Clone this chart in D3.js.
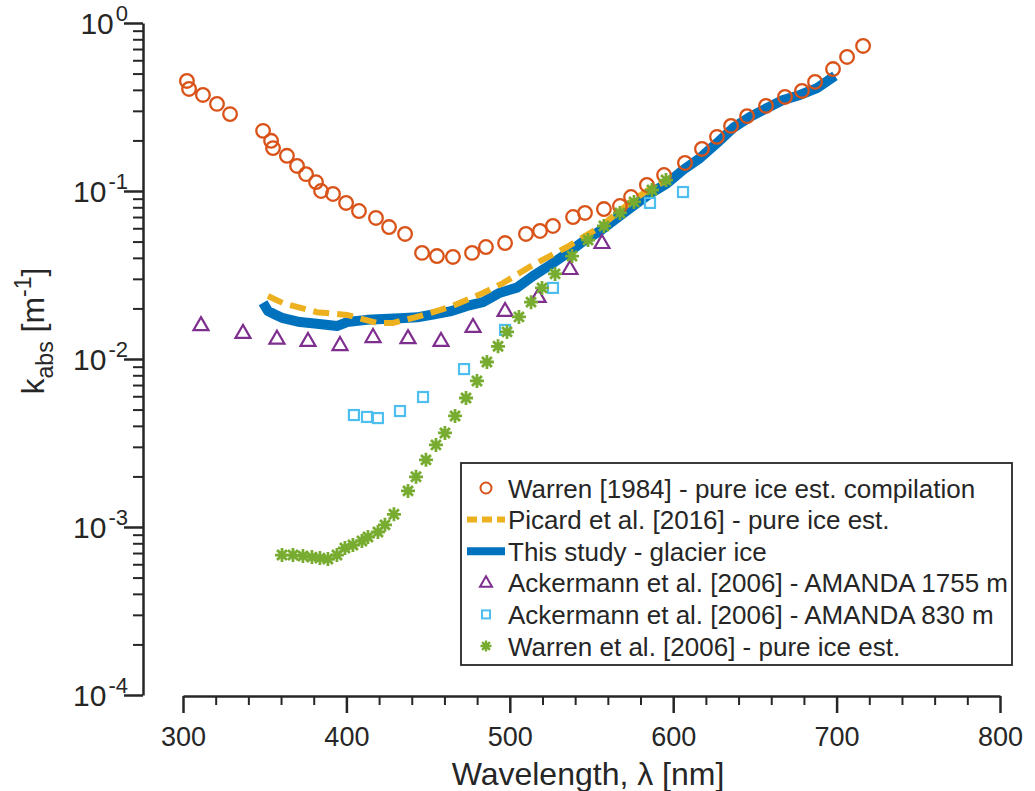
<!DOCTYPE html>
<html><head><meta charset="utf-8">
<script src="https://cdn.jsdelivr.net/npm/d3@7"></script>
<style>
html,body{margin:0;padding:0;background:#fff;}
svg{display:block;}
text{font-family:Helvetica, Arial, "Liberation Sans", sans-serif; fill:#262626;}
</style></head>
<body>
<svg id="chart" width="1035" height="791"></svg>
<script>
// ---------------- DATA ----------------
const warren1984Wl = [302.4,303.7,312.2,320.8,328.8,349.0,353.9,355.1,363.6,369.8,375.3,381.4,384.5,391.8,399.8,407.7,418.1,426.1,435.9,446.3,455.4,465.2,476.9,485.4,497.1,509.9,518.5,526.4,538.7,546.0,557.6,567.4,574.2,583.9,594.4,607.2,617.6,626.8,635.4,645.2,656.8,668.4,678.8,686.8,697.8,706.4,716.2];
const warren1984K  = [0.452,0.405,0.373,0.330,0.287,0.228,0.199,0.180,0.162,0.141,0.126,0.113,0.100,0.096,0.0849,0.0760,0.0691,0.0610,0.0555,0.0428,0.0410,0.0405,0.0428,0.0464,0.0490,0.0555,0.0578,0.0619,0.0700,0.0740,0.0781,0.0814,0.0921,0.1086,0.1245,0.1468,0.178,0.210,0.244,0.279,0.321,0.363,0.394,0.446,0.532,0.628,0.730];

const picardWl = [352.0,361.2,382.0,400.4,418.7,428.5,443.2,463.4,483.6,495.8,514.2,535.0,555.2,575.4,587.6,598.0];
const picardK  = [0.0237,0.0215,0.0190,0.0183,0.0164,0.0164,0.0178,0.0204,0.0247,0.0283,0.0363,0.0464,0.0610,0.0884,0.1056,0.118];

const studyWl = [349.0,352.0,356.9,361.2,371.6,382.0,394.2,400.4,412.6,422.4,432.8,443.2,453.0,463.4,473.8,483.6,494.0,504.4,514.2,524.6,535.0,544.8,555.2,565.6,575.4,585.8,596.2,606.0,616.4,626.8,636.6,647.0,657.4,667.2,677.6,688.0,699.0];
const studyK  = [0.0216,0.0193,0.0183,0.0175,0.0166,0.0162,0.0157,0.0166,0.0171,0.0173,0.0175,0.0177,0.0184,0.0192,0.0207,0.0218,0.0248,0.0266,0.0312,0.0362,0.0425,0.0500,0.0578,0.0690,0.0815,0.0965,0.1110,0.1334,0.157,0.193,0.237,0.276,0.312,0.348,0.373,0.410,0.484];

const ack1755Wl = [311.0,336.7,357.5,376.5,396.1,416.3,437.7,457.9,477.5,497.1,517.3,536.8,556.4];
const ack1755K  = [0.0159,0.0143,0.0132,0.0128,0.0121,0.0135,0.0133,0.0128,0.0155,0.0193,0.0234,0.0343,0.0490];

const ack830Wl = [404.6,412.6,419.3,432.8,446.9,472.0,497.1,526.4,585.8,606.0];
const ack830K  = [0.00464,0.00452,0.00445,0.00490,0.00594,0.00871,0.0149,0.0265,0.0849,0.0986];

const warren2006Wl = [360.6,367.3,373.4,378.9,383.8,388.7,394.2,399.1,404.0,409.5,413.2,419.3,423.6,429.1,437.7,442.6,448.7,454.8,460.3,466.5,473.2,479.9,486.0,492.8,498.3,505.6,513.0,519.7,527.7,538.1,547.9,557.6,567.4,576.0,587.0,595.6];
const warren2006K  = [6.81e-4,6.81e-4,6.72e-4,6.62e-4,6.53e-4,6.45e-4,6.81e-4,7.50e-4,7.81e-4,8.26e-4,8.72e-4,9.34e-4,1.03e-3,1.19e-3,1.64e-3,1.99e-3,2.51e-3,3.08e-3,3.63e-3,4.58e-3,5.86e-3,7.40e-3,9.60e-3,0.0119,0.0145,0.0178,0.0218,0.0265,0.0321,0.0410,0.0511,0.0619,0.0740,0.0861,0.1014,0.1162];

const xTickValues = [300,400,500,600,700,800];
const yTickExponents = [0,-1,-2,-3,-4];
const legendLabels = [
  "Warren [1984] - pure ice est. compilation",
  "Picard et al. [2016] - pure ice est.",
  "This study - glacier ice",
  "Ackermann et al. [2006] - AMANDA 1755 m",
  "Ackermann et al. [2006] - AMANDA 830 m",
  "Warren et al. [2006] - pure ice est."
];

// ---------------- STYLE ----------------
const C = {orange:"#D95319", yellow:"#EDB120", blue:"#0072BD", purple:"#7E2F8E", cyan:"#4DBEEE", green:"#77AC30", axis:"#262626"};
const zip = (a,b)=>a.map((v,i)=>[v,b[i]]);

const svg = d3.select("#chart");
const x = d3.scaleLinear().domain([300,800]).range([183,1000]);
const y = d3.scaleLog().domain([1e-4,1]).range([695,23]);

// ---------------- AXES ----------------
const xAxisY = 696, yAxisX = 143;
const minorX = d3.range(300,801,20).filter(v=>v%100!==0);
svg.append("g").attr("transform",`translate(0,${xAxisY})`)
  .call(d3.axisBottom(x).tickValues(minorX).tickSize(9).tickSizeOuter(0).tickFormat(""))
  .call(g=>g.select(".domain").remove())
  .call(g=>g.selectAll("line").attr("stroke",C.axis).attr("stroke-width",2));
const gx = svg.append("g").attr("transform",`translate(0,${xAxisY})`)
  .call(d3.axisBottom(x).tickValues(xTickValues).tickSize(17).tickSizeOuter(0).tickPadding(14));
gx.select(".domain").attr("stroke",C.axis).attr("stroke-width",2.5);
gx.selectAll("line").attr("stroke",C.axis).attr("stroke-width",2.5);
gx.selectAll("text").attr("font-size",27).attr("fill",C.axis).style("font-family","Helvetica, Arial, 'Liberation Sans', sans-serif");

const minorY = [];
for (let e=-4;e<0;e++) for (let m=2;m<=9;m++) minorY.push(m*Math.pow(10,e));
svg.append("g").attr("transform",`translate(${yAxisX},0)`)
  .call(d3.axisLeft(y).tickValues(minorY).tickSize(10).tickSizeOuter(0).tickFormat(""))
  .call(g=>g.select(".domain").remove())
  .call(g=>g.selectAll("line").attr("stroke",C.axis).attr("stroke-width",2));
const gy = svg.append("g").attr("transform",`translate(${yAxisX},0)`)
  .call(d3.axisLeft(y).tickValues(yTickExponents.map(e=>Math.pow(10,e))).tickSize(19).tickSizeOuter(0).tickFormat(""));
gy.select(".domain").attr("stroke",C.axis).attr("stroke-width",2.5);
gy.selectAll("line").attr("stroke",C.axis).attr("stroke-width",2.5);
yTickExponents.forEach(e=>{
  const t = svg.append("text").attr("x",128).attr("y",y(Math.pow(10,e))+11)
    .attr("text-anchor","end").attr("font-size",30);
  t.append("tspan").text("10");
  t.append("tspan").attr("dx",2).attr("dy",-13).attr("font-size",22).text(e===0?"0":"-"+Math.abs(e));
});

// axis titles
svg.append("text").attr("x",588).attr("y",785).attr("text-anchor","middle").attr("font-size",32)
  .text("Wavelength, \u03BB [nm]");
const yl = svg.append("text").attr("transform","translate(44,331) rotate(-90)").attr("text-anchor","middle").attr("font-size",32);
yl.append("tspan").text("k");
yl.append("tspan").attr("dy",9).attr("font-size",23).text("abs");
yl.append("tspan").attr("dy",-9).text(" [m");
yl.append("tspan").attr("dy",-13).attr("font-size",23).text("-1");
yl.append("tspan").attr("dy",13).text("]");

// ---------------- MARKS ----------------
const line = d3.line().x(d=>x(d[0])).y(d=>y(d[1])).curve(d3.curveLinear);
const plot = svg.append("g");
plot.append("path").datum(zip(studyWl,studyK)).attr("d",line)
  .attr("fill","none").attr("stroke",C.blue).attr("stroke-width",10).attr("stroke-linejoin","round").attr("stroke-linecap","butt");
plot.append("path").datum(zip(picardWl,picardK)).attr("d",line)
  .attr("fill","none").attr("stroke",C.yellow).attr("stroke-width",6).attr("stroke-dasharray","16,8");

const starPath = s => { const r=s/2, d=r*0.7071; return `M${-r},0L${r},0M0,${-r}L0,${r}M${-d},${-d}L${d},${d}M${-d},${d}L${d},${-d}`; };
const triPath = s => { const h=s*0.866; return `M0,${-h*0.62}L${s/2},${h*0.38}L${-s/2},${h*0.38}Z`; };

plot.selectAll(".w84").data(zip(warren1984Wl,warren1984K)).join("circle")
  .attr("cx",d=>x(d[0])).attr("cy",d=>y(d[1])).attr("r",6.8)
  .attr("fill","none").attr("stroke",C.orange).attr("stroke-width",2.3);
plot.selectAll(".a1755").data(zip(ack1755Wl,ack1755K)).join("path")
  .attr("transform",d=>`translate(${x(d[0])},${y(d[1])})`).attr("d",triPath(15))
  .attr("fill","none").attr("stroke",C.purple).attr("stroke-width",2.2);
plot.selectAll(".a830").data(zip(ack830Wl,ack830K)).join("rect")
  .attr("x",d=>x(d[0])-5).attr("y",d=>y(d[1])-5).attr("width",10).attr("height",10)
  .attr("fill","none").attr("stroke",C.cyan).attr("stroke-width",2.2);
plot.selectAll(".w06").data(zip(warren2006Wl,warren2006K)).join("path")
  .attr("transform",d=>`translate(${x(d[0])},${y(d[1])})`).attr("d",starPath(14))
  .attr("fill","none").attr("stroke",C.green).attr("stroke-width",2.8);

// ---------------- LEGEND ----------------
const lg = svg.append("g");
lg.append("rect").attr("x",461).attr("y",463).attr("width",551).attr("height",202)
  .attr("fill","#fff").attr("stroke",C.axis).attr("stroke-width",1.8);
const rowY = i => 488 + i*31.6;
const sx0 = 467, sx1 = 505, sxm = 486, tx = 508;
legendLabels.forEach((lab,i)=>{
  lg.append("text").attr("x",tx).attr("y",rowY(i)+9.5).attr("font-size",26).text(lab);
});
lg.append("circle").attr("cx",sxm).attr("cy",rowY(0)).attr("r",5.5).attr("fill","none").attr("stroke",C.orange).attr("stroke-width",2);
lg.append("line").attr("x1",sx0).attr("x2",sx1).attr("y1",rowY(1)).attr("y2",rowY(1)).attr("stroke",C.yellow).attr("stroke-width",6).attr("stroke-dasharray","10,5");
lg.append("line").attr("x1",sx0).attr("x2",sx1).attr("y1",rowY(2)).attr("y2",rowY(2)).attr("stroke",C.blue).attr("stroke-width",8);
lg.append("path").attr("transform",`translate(${sxm},${rowY(3)})`).attr("d",triPath(12)).attr("fill","none").attr("stroke",C.purple).attr("stroke-width",2);
lg.append("rect").attr("x",sxm-4).attr("y",rowY(4)-4).attr("width",8).attr("height",8).attr("fill","none").attr("stroke",C.cyan).attr("stroke-width",2);
lg.append("path").attr("transform",`translate(${sxm},${rowY(5)})`).attr("d",starPath(11)).attr("fill","none").attr("stroke",C.green).attr("stroke-width",2.4);
</script>
</body></html>
